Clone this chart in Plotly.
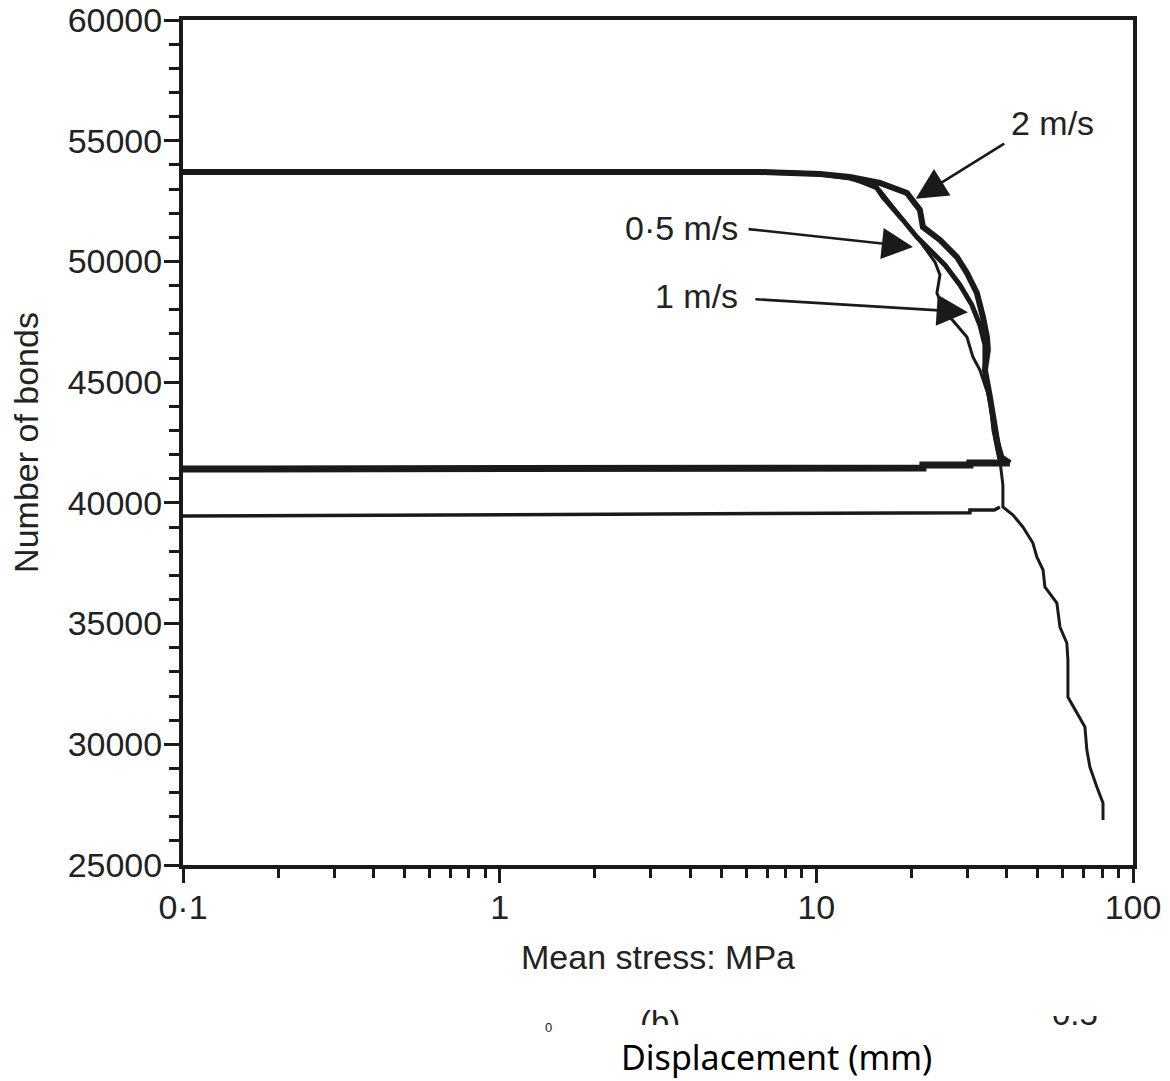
import plotly.graph_objects as go
import math

# ---------------- data ----------------
# 2 m/s loading curve (thick, outer strand)
x_2ms = [0.1, 6.64, 10.27, 12.77, 15.88, 19.32, 21.24, 21.71, 24.57, 27.80, 29.89,
         32.14, 33.58, 34.57, 34.81, 34.07, 35.33, 36.11, 37.18, 37.99, 40.85]
y_2ms = [53704, 53704, 53621, 53497, 53249, 52834, 52130, 51426, 50888, 50183, 49521,
         48692, 47698, 46870, 46331, 45503, 44385, 43432, 42604, 41899, 41651]

# 0.5 m/s loading curve (thick, inner strand)
x_05ms = [0.1, 6.64, 10.27, 12.77, 15.31, 16.23, 18.77, 20.78, 23.35, 25.47, 28.41,
          31.00, 32.85, 34.07, 34.07, 35.33, 36.11, 37.18, 38.55, 40.85]
y_05ms = [53704, 53704, 53621, 53456, 53166, 52669, 51716, 51012, 50349, 49852, 49024,
          48195, 47367, 46538, 45503, 44385, 43432, 42604, 41899, 41651]

# unloading of the thick curves
x_unload_hi = [40.85, 30.55, 30.55, 21.71, 21.71, 0.1]
y_unload_hi = [41651, 41651, 41568, 41568, 41444, 41402]

# 1 m/s curve (thin), continues to high stress
x_1ms = [0.1, 6.64, 10.27, 12.77, 15.88, 18.37, 20.78, 23.69, 24.57, 24.03, 24.57,
         26.41, 29.89, 31.22, 32.85, 35.33, 36.11, 37.18, 37.99, 38.83, 38.83,
         41.8, 44.9, 48.3, 49.7, 52.0, 52.7, 57.5, 58.8, 61.8, 62.3, 62.3,
         66.5, 70.5, 71.5, 73.1, 76.9, 80.4, 80.4]
y_1ms = [53704, 53704, 53621, 53456, 52959, 51923, 51012, 49976, 49438, 48692, 48402,
         47698, 46870, 46041, 45503, 44260, 43018, 42189, 41775, 40740, 39828,
         39497, 39000, 38337, 37757, 37219, 36515, 35852, 34858, 34195, 33491, 31959,
         31296, 30716, 29763, 29059, 28231, 27568, 26864]

# lower unloading line
x_unload_lo = [37.99, 36.5, 30.55, 30.55, 0.1]
y_unload_lo = [39828, 39704, 39704, 39590, 39456]

x_tickvals = [0.1, 1, 10, 100]
x_ticktext = ["0·1", "1", "10", "100"]
x_minor = [0.2, 0.3, 0.4, 0.5, 0.6, 0.7, 0.8, 0.9,
           2, 3, 4, 5, 6, 7, 8, 9,
           20, 30, 40, 50, 60, 70, 80, 90]
y_tickvals = [25000, 30000, 35000, 40000, 45000, 50000, 55000, 60000]
y_ticktext = ["25000", "30000", "35000", "40000", "45000", "50000", "55000", "60000"]

# arrow labels: (label, arrow tip x [MPa], arrow tip y [bonds])
labels = ["2 m/s", "0·5 m/s", "1 m/s"]
tip_x = [20.6, 20.2, 30.1]
tip_y = [52600, 50600, 47900]

# ---------------- figure ----------------
LINE = "#1a1a1a"
TXT = "#222222"
FONT = "Liberation Sans, Arial, sans-serif"

fig = go.Figure()
fig.add_trace(go.Scatter(x=x_unload_lo, y=y_unload_lo, mode="lines",
                         line=dict(color=LINE, width=3.5), showlegend=False))
fig.add_trace(go.Scatter(x=x_unload_hi, y=y_unload_hi, mode="lines",
                         line=dict(color=LINE, width=7), showlegend=False))
fig.add_trace(go.Scatter(x=x_1ms, y=y_1ms, mode="lines", name="1 m/s",
                         line=dict(color=LINE, width=3), showlegend=False))
fig.add_trace(go.Scatter(x=x_05ms, y=y_05ms, mode="lines", name="0·5 m/s",
                         line=dict(color=LINE, width=5), showlegend=False))
fig.add_trace(go.Scatter(x=x_2ms, y=y_2ms, mode="lines", name="2 m/s",
                         line=dict(color=LINE, width=6), showlegend=False))

annotations = []
arrow_off = [(90, -56), (-166, -18), (-214, -13)]
text_pos = [(1052, 123), (681, 228), (696, 296)]  # pixel centres of label text


def px_to_paper(px, py):
    # plot area spans pixels x 183..1133, y 20..865
    return (px - 183) / 950.0, (865 - py) / 845.0


for lab, tx, ty, (ax, ay), (cx, cy) in zip(labels, tip_x, tip_y, arrow_off, text_pos):
    annotations.append(dict(x=math.log10(tx), y=ty, xref="x", yref="y", text="",
                            showarrow=True, ax=ax, ay=ay, arrowhead=2,
                            arrowsize=2.4, arrowwidth=2.6, arrowcolor=LINE))
    px, py = px_to_paper(cx, cy)
    annotations.append(dict(x=px, y=py, xref="paper", yref="paper", text=lab,
                            showarrow=False, xanchor="center", yanchor="middle",
                            font=dict(family=FONT, size=34, color=TXT)))

# cropped caption fragments at the bottom
bx, by = px_to_paper(660, 1002)
annotations.append(dict(x=bx, y=by, xref="paper", yref="paper", text="(b)",
                        showarrow=False, xanchor="center", yanchor="top",
                        font=dict(family=FONT, size=33, color=TXT)))
fx, fy = px_to_paper(1075, 1034)
annotations.append(dict(x=fx, y=fy, xref="paper", yref="paper", text="0.5",
                        showarrow=False, xanchor="center", yanchor="bottom",
                        font=dict(family=FONT, size=33, color=TXT)))
# white covers that crop the fragments
cx1, cy1 = px_to_paper(600, 1025)
annotations.append(dict(x=cx1, y=cy1, xref="paper", yref="paper", text=" ",
                        showarrow=False, xanchor="left", yanchor="top",
                        width=140, height=32, bgcolor="white", borderpad=0, borderwidth=0))
cx2, cy2 = px_to_paper(1020, 1016)
annotations.append(dict(x=cx2, y=cy2, xref="paper", yref="paper", text=" ",
                        showarrow=False, xanchor="left", yanchor="bottom",
                        width=120, height=40, bgcolor="white", borderpad=0, borderwidth=0))
zx, zy = px_to_paper(548, 1027)
annotations.append(dict(x=zx, y=zy, xref="paper", yref="paper", text="0",
                        showarrow=False, xanchor="center", yanchor="middle",
                        font=dict(family=FONT, size=13, color=TXT)))
dx, dy = px_to_paper(776, 1057)
annotations.append(dict(x=dx, y=dy, xref="paper", yref="paper", text="Displacement (mm)",
                        showarrow=False, xanchor="center", yanchor="middle", borderpad=0,
                        font=dict(family="Noto Sans, sans-serif", size=34, color="#000000")))

fig.update_layout(
    width=1170, height=1081,
    margin=dict(l=183, r=37, t=20, b=216, autoexpand=False),
    paper_bgcolor="white", plot_bgcolor="white",
    font=dict(family=FONT, size=34, color=TXT),
    annotations=annotations,
    showlegend=False,
)
fig.update_xaxes(
    type="log", range=[-1, 2], automargin=False,
    tickmode="array", tickvals=x_tickvals, ticktext=x_ticktext,
    ticks="outside", ticklen=14, tickwidth=3, tickcolor=LINE,
    minor=dict(tickmode="array", tickvals=x_minor, ticks="outside",
               ticklen=9, tickwidth=3, tickcolor=LINE, showgrid=False),
    showline=True, linewidth=4, linecolor=LINE, mirror=True,
    showgrid=False, zeroline=False,
    ticklabelstandoff=-5, ticklabeloverflow="allow",
    tickfont=dict(family=FONT, size=34, color=TXT),
    title=dict(text="Mean stress: MPa", font=dict(family=FONT, size=34, color=TXT), standoff=21),
)
fig.update_yaxes(
    range=[25000, 60000], automargin=False,
    tickmode="array", tickvals=y_tickvals, ticktext=y_ticktext,
    ticks="outside", ticklen=15, tickwidth=3, tickcolor=LINE,
    minor=dict(dtick=1000, tick0=25000, ticks="outside", ticklen=10,
               tickwidth=3, tickcolor=LINE, showgrid=False),
    showline=True, linewidth=4, linecolor=LINE, mirror=True,
    showgrid=False, zeroline=False,
    ticklabelstandoff=-5, ticklabeloverflow="allow",
    tickfont=dict(family=FONT, size=34, color=TXT),
    title=dict(text="Number of bonds", font=dict(family=FONT, size=34, color=TXT), standoff=20),
)

# remove the default 8 px page margin so the figure fills the window exactly
fig.write_html("out.html", config={"displayModeBar": False},
               post_script="document.body.style.margin='0px';")
